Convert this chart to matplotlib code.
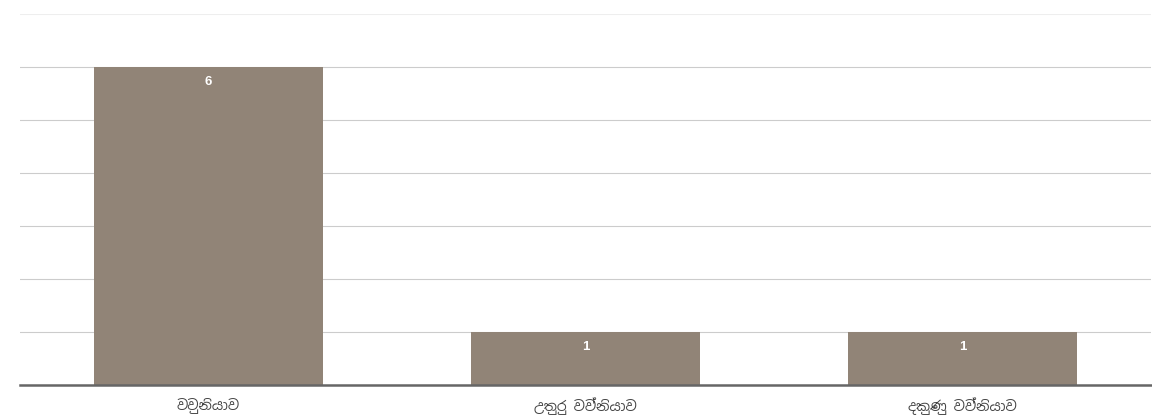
import matplotlib
matplotlib.use("Agg")
import matplotlib.pyplot as plt
from matplotlib import font_manager

# Data
categories = ['වවුනියාව', 'උතුරු වව්නියාව', 'දකුණු වව්නියාව']
values = [6, 1, 1]

# use a Sinhala font if one happens to be installed
families = ['DejaVu Sans']
for f in font_manager.fontManager.ttflist:
    if 'sinhala' in f.name.lower():
        families.insert(0, f.name)
        break
plt.rcParams['font.family'] = families

fig = plt.figure(figsize=(11.52, 4.16), dpi=100)
ax = fig.add_axes([20 / 1152, 31 / 416, 1131 / 1152, 371 / 416])

x = range(len(categories))
bars = ax.bar(x, values, width=0.605, color='#918477', zorder=2)

for b, v in zip(bars, values):
    ax.annotate(str(v), (b.get_x() + b.get_width() / 2, v),
                xytext=(0, -11), textcoords='offset points',
                ha='center', va='center', color='white',
                fontsize=9.5, fontweight='bold', fontfamily='Liberation Sans')

ax.set_xlim(-0.5, len(categories) - 0.5)
ax.set_ylim(0, 7)
ax.set_yticks(range(0, 8))
ax.set_yticklabels([])
ax.tick_params(axis='y', length=0)
ax.tick_params(axis='x', length=0, pad=9, labelsize=10, labelcolor='#444444')
ax.set_xticks(list(x))
ax.set_xticklabels(categories)

ax.grid(axis='y', color='#cccccc', linewidth=0.8, zorder=0)
ax.get_ygridlines()[-1].set_color('#eeeeee')

for s in ['top', 'right', 'left']:
    ax.spines[s].set_visible(False)
ax.spines['bottom'].set_color('#666666')
ax.spines['bottom'].set_linewidth(1.8)
ax.spines['bottom'].set_zorder(3)

fig.savefig('out.png', dpi=100)
